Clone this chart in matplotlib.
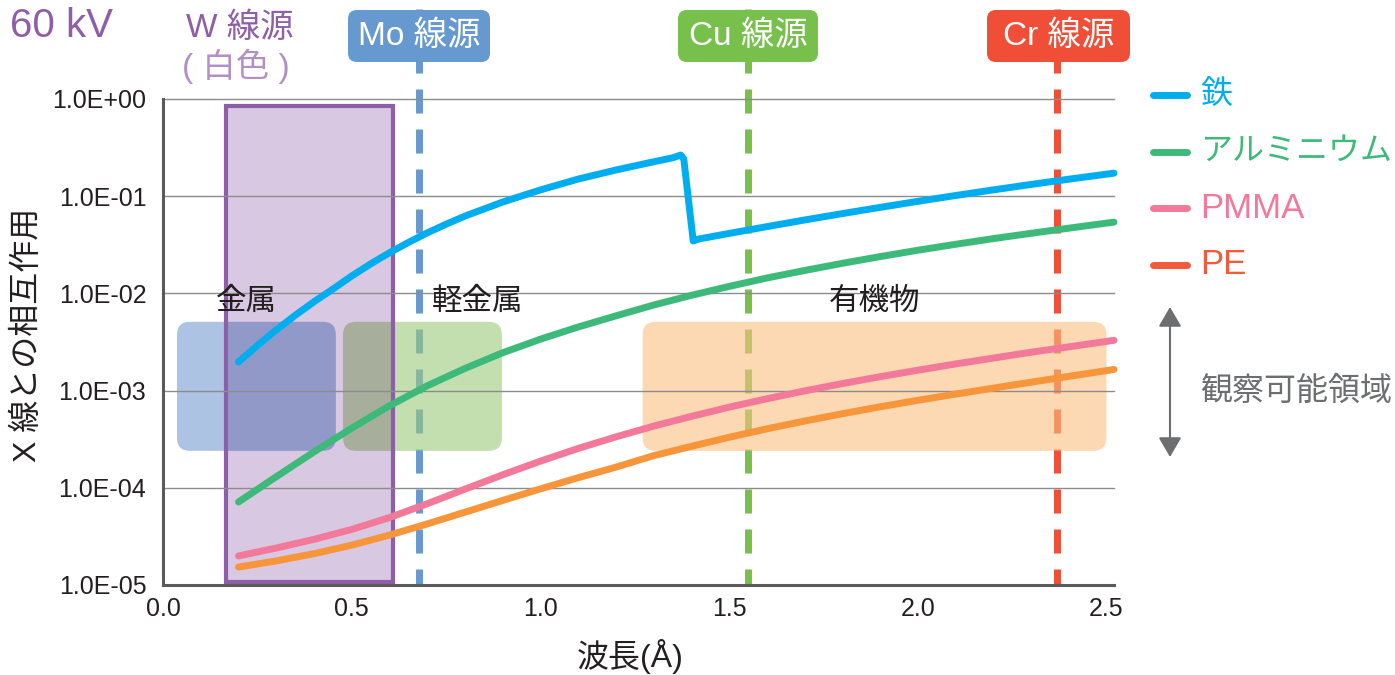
import matplotlib
matplotlib.use('Agg')
import matplotlib.pyplot as plt
from matplotlib.patches import Rectangle, FancyBboxPatch, FancyArrowPatch, ArrowStyle
from matplotlib.transforms import IdentityTransform
from matplotlib.lines import Line2D
from matplotlib.ticker import NullLocator

plt.rcParams['font.family'] = ['Liberation Sans', 'Noto Sans CJK JP']

# curves (wavelength in angstrom, interaction on log scale)
fe_x = [0.20, 0.25, 0.30, 0.35, 0.40, 0.45, 0.50, 0.55, 0.60, 0.65, 0.70, 0.75, 0.80,
        0.90, 1.00, 1.10, 1.20, 1.30, 1.35, 1.372, 1.38, 1.405, 1.42, 1.50, 1.60,
        1.70, 1.80, 1.90, 2.00, 2.10, 2.20, 2.30, 2.40, 2.52]
fe_y = [1.97e-3, 2.91e-3, 4.21e-3, 5.94e-3, 8.20e-3, 1.107e-2, 1.51e-2, 2.01e-2,
        2.62e-2, 3.34e-2, 4.19e-2, 5.15e-2, 6.24e-2, 8.71e-2, 0.116, 0.150, 0.186,
        0.226, 0.248, 0.265, 0.241, 0.0346, 0.0363, 0.0414, 0.0486, 0.0569, 0.0662,
        0.0767, 0.0885, 0.1016, 0.1161, 0.1321, 0.1496, 0.1726]

al_x = [0.20, 0.30, 0.40, 0.50, 0.60, 0.70, 0.80, 0.90, 1.00, 1.10, 1.20, 1.30, 1.40,
        1.50, 1.60, 1.70, 1.80, 1.90, 2.00, 2.10, 2.20, 2.30, 2.40, 2.52]
al_y = [7.14e-5, 1.30e-4, 2.34e-4, 4.11e-4, 6.98e-4, 1.12e-3, 1.69e-3, 2.45e-3,
        3.38e-3, 4.51e-3, 5.87e-3, 7.59e-3, 9.55e-3, 1.18e-2, 1.44e-2, 1.72e-2,
        2.04e-2, 2.39e-2, 2.78e-2, 3.20e-2, 3.66e-2, 4.15e-2, 4.69e-2, 5.41e-2]

pmma_x = [0.20, 0.30, 0.40, 0.50, 0.60, 0.70, 0.80, 0.90, 1.00, 1.10, 1.20, 1.30, 1.40,
          1.50, 1.60, 1.70, 1.80, 1.90, 2.00, 2.10, 2.20, 2.30, 2.40, 2.52]
pmma_y = [1.99e-5, 2.40e-5, 2.95e-5, 3.73e-5, 4.94e-5, 6.85e-5, 9.68e-5, 1.36e-4,
          1.88e-4, 2.54e-4, 3.34e-4, 4.31e-4, 5.43e-4, 6.75e-4, 8.24e-4, 9.93e-4,
          1.18e-3, 1.39e-3, 1.62e-3, 1.88e-3, 2.16e-3, 2.48e-3, 2.82e-3, 3.29e-3]

pe_x = [0.20, 0.30, 0.40, 0.50, 0.60, 0.70, 0.80, 0.90, 1.00, 1.10, 1.20, 1.30, 1.40,
        1.50, 1.60, 1.70, 1.80, 1.90, 2.00, 2.10, 2.20, 2.30, 2.40, 2.52]
pe_y = [1.53e-5, 1.77e-5, 2.10e-5, 2.57e-5, 3.26e-5, 4.25e-5, 5.61e-5, 7.41e-5,
        9.74e-5, 1.27e-4, 1.63e-4, 2.14e-4, 2.67e-4, 3.31e-4, 4.04e-4, 4.86e-4,
        5.78e-4, 6.81e-4, 7.94e-4, 9.20e-4, 1.06e-3, 1.22e-3, 1.40e-3, 1.65e-3]

series_names = ['鉄', 'アルミニウム', 'PMMA', 'PE']
series_colors = ['#00aeef', '#3dba7a', '#f27999', '#f7953b']
legend_colors = ['#00aeef', '#3dba7a', '#f27999', '#f15a3a']
legend_sizes = [23, 23, 25, 25]

# characteristic lines of the tube targets
source_names = ['Mo 線源', 'Cu 線源', 'Cr 線源']
source_x = [0.678, 1.549, 2.370]
source_colors = ['#6699cf', '#77c04b', '#f04e37']

# observable regions
region_names = ['金属', '軽金属', '有機物']
region_x0 = [0.037, 0.477, 1.271]
region_x1 = [0.458, 0.898, 2.500]
region_label_x = [0.22, 0.834, 1.886]
region_ylo, region_yhi = 2.4e-4, 5.1e-3
region_label_y = 8.2e-3

# W white radiation band
w_x0, w_x1 = 0.167, 0.609
w_ylo, w_yhi = 1.07e-5, 0.85

yticks = [1e-5, 1e-4, 1e-3, 1e-2, 1e-1, 1e0]
ylabels = ['1.0E-05', '1.0E-04', '1.0E-03', '1.0E-02', '1.0E-01', '1.0E+00']
xticks = [0.0, 0.5, 1.0, 1.5, 2.0, 2.5]

W, H = 1395, 675
fig = plt.figure(figsize=(W / 100, H / 100), dpi=100)
ax = fig.add_axes([163 / W, 1 - 585 / H, (1114 - 163) / W, (585 - 99) / H])
ax.set_yscale('log')
ax.set_xlim(0, 2.52)
ax.set_ylim(1e-5, 1)
ax.set_autoscale_on(False)


def fx(px):
    return px / W


def fy(py):
    return 1 - py / H


text_col = '#231f20'

# gridlines
for v in yticks:
    ax.axhline(v, color='#8c8c8c', lw=1.0, zorder=2.5, clip_on=False)

# dashed source lines (from top of figure down to the axis)
ytop = 10 ** ((99 - 9) / 97.2)
for xv, c in zip(source_x, source_colors):
    ax.plot([xv, xv], [ytop, 1e-5], color=c, lw=5, dashes=(3.46, 2.3),
            solid_capstyle='butt', dash_capstyle='butt', zorder=1, clip_on=False)

# region boxes, drawn in pixels so the corners stay round on the log axis
a = 0.6
box_targets = [(173, 195, 228), (197, 223, 176), (252, 218, 178)]
mult_targets = [(145, 153, 201), (167, 175, 156), None]
w_rect = Rectangle((w_x0, w_ylo), w_x1 - w_x0, w_yhi - w_ylo, facecolor='#d8c8e2',
                   edgecolor='none', zorder=2.1)
ax.add_patch(w_rect)
for i in range(3):
    (x0, y0) = ax.transData.transform((region_x0[i], region_ylo))
    (x1, y1) = ax.transData.transform((region_x1[i], region_yhi))
    t = box_targets[i]
    fc = tuple(min(1, max(0, (c / 255 - (1 - a)) / a)) for c in t)
    p = FancyBboxPatch((x0, y0), x1 - x0, y1 - y0, boxstyle='round,pad=0,rounding_size=13',
                       transform=IdentityTransform(), facecolor=fc, alpha=a,
                       edgecolor='none', zorder=2)
    ax.add_patch(p)
    if mult_targets[i] is not None:
        q = FancyBboxPatch((x0, y0), x1 - x0, y1 - y0, boxstyle='round,pad=0,rounding_size=13',
                           transform=IdentityTransform(),
                           facecolor=tuple(c / 255 for c in mult_targets[i]),
                           edgecolor='none', zorder=2.2)
        ax.add_patch(q)
        q.set_clip_path(w_rect)
    ax.text(region_label_x[i], region_label_y, region_names[i], fontsize=22,
            color=text_col, ha='center', va='center', zorder=4)

ax.add_patch(Rectangle((w_x0, w_ylo), w_x1 - w_x0, w_yhi - w_ylo, fill=False,
                       edgecolor='#8e5ea8', lw=3, zorder=2.3))

# curves
for xs, ys, c in zip([fe_x, al_x, pmma_x, pe_x], [fe_y, al_y, pmma_y, pe_y], series_colors):
    ax.plot(xs, ys, color=c, lw=5, solid_capstyle='round', solid_joinstyle='round',
            zorder=3, clip_on=False)

# axes styling
ax.yaxis.set_minor_locator(NullLocator())
ax.set_yticks(yticks)
ax.set_yticklabels(ylabels)
ax.set_xticks(xticks)
ax.set_xticklabels(['%.1f' % v for v in xticks])
ax.tick_params(length=0, labelsize=18, labelcolor=text_col)
ax.tick_params(axis='y', pad=12)
ax.tick_params(axis='x', pad=9)
for s in ['top', 'right']:
    ax.spines[s].set_visible(False)
for s in ['left', 'bottom']:
    ax.spines[s].set_color('#5a5a5a')
    ax.spines[s].set_linewidth(2.2)
    ax.spines[s].set_zorder(3.5)

fig.text(fx(28), fy(335), 'X 線との相互作用', rotation=90, fontsize=23, color=text_col,
         ha='center', va='center')
fig.text(fx(630), fy(656), '波長(Å)', fontsize=23, color=text_col, ha='center', va='center')

# header texts
fig.text(fx(10), fy(37), '60 kV', fontsize=29, color='#8e5ea8', ha='left', va='baseline')
fig.text(fx(186), fy(37), 'W 線源', fontsize=24, color='#8e5ea8', ha='left', va='baseline')
fig.text(fx(182), fy(77), '( 白色 )', fontsize=24, color='#b48fc6', ha='left', va='baseline')

box_left = [348, 678, 987]
box_right = [490, 818, 1130]
for name, l, r, c in zip(source_names, box_left, box_right, source_colors):
    b = FancyBboxPatch((l, H - 62), r - l, 52, boxstyle='round,pad=0,rounding_size=9',
                       transform=IdentityTransform(), facecolor=c, edgecolor='none', zorder=5)
    fig.add_artist(b)
    fig.text(fx((l + r) / 2), fy(36), name, fontsize=24, color='white',
             ha='center', va='center', zorder=6)

# legend
legend_y = [95, 152, 208, 265]
for name, c, yy, fs in zip(series_names, legend_colors, legend_y, legend_sizes):
    fig.add_artist(Line2D([fx(1153), fx(1187)], [fy(yy), fy(yy)], color=c, lw=5,
                          solid_capstyle='round'))
    fig.text(fx(1200), fy(yy), name, fontsize=fs, color=c, ha='left', va='center')

arrow = FancyArrowPatch((1170, H - 307), (1170, H - 457), transform=IdentityTransform(),
                        arrowstyle=ArrowStyle('<|-|>', head_length=12, head_width=7),
                        mutation_scale=1, color='#6d6e70', lw=1.5, shrinkA=0, shrinkB=0)
fig.add_artist(arrow)
fig.text(fx(1200), fy(392), '観察可能領域', fontsize=23, color='#6d6e70', ha='left', va='center')

fig.savefig('out.png', dpi=100)
